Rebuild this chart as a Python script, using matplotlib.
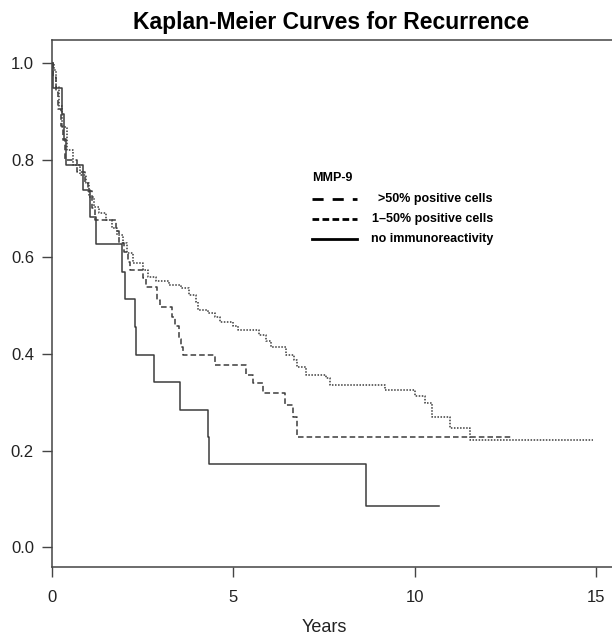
import matplotlib
matplotlib.use("Agg")
import matplotlib.pyplot as plt
from matplotlib.lines import Line2D

plt.rcParams['font.family'] = ['Liberation Sans', 'DejaVu Sans']
plt.rcParams['lines.scale_dashes'] = False

# no immunoreactivity (solid)
t_none = [0, 0.04, 0.27, 0.33, 0.39, 0.85, 1.05, 1.20, 1.93, 2.01, 2.29, 2.31, 2.82, 3.54, 4.31, 4.33, 8.65, 10.68]
s_none = [1.0, 0.947, 0.895, 0.842, 0.789, 0.737, 0.682, 0.626, 0.569, 0.512, 0.455, 0.398, 0.341, 0.284, 0.228, 0.172, 0.086, 0.086]

# dashed curve
t_dash = [0, 0.04, 0.10, 0.17, 0.24, 0.30, 0.36, 0.70, 0.91, 1.00, 1.10, 1.19, 1.76, 1.85, 1.98, 2.10, 2.15,
          2.52, 2.58, 2.90, 2.98, 3.30, 3.40, 3.50, 3.55, 3.62, 4.49, 5.35, 5.55, 5.83, 6.42, 6.65, 6.75, 12.67]
s_dash = [1.0, 0.97, 0.94, 0.905, 0.87, 0.84, 0.80, 0.775, 0.752, 0.735, 0.70, 0.675, 0.652, 0.628, 0.61, 0.59, 0.573,
          0.555, 0.538, 0.511, 0.496, 0.475, 0.456, 0.43, 0.414, 0.397, 0.377, 0.356, 0.339, 0.318, 0.294, 0.27, 0.227, 0.227]

# dotted curve
t_dot = [0, 0.06, 0.12, 0.20, 0.28, 0.40, 0.58, 0.78, 0.94, 1.03, 1.17, 1.30, 1.48, 1.66, 1.80, 1.95, 2.08, 2.22,
         2.50, 2.64, 2.87, 3.23, 3.56, 3.78, 3.96, 4.03, 4.30, 4.49, 4.62, 5.00, 5.14, 5.72, 5.90, 6.05, 6.45, 6.68,
         6.75, 7.00, 7.55, 7.66, 9.18, 10.00, 10.28, 10.47, 10.97, 11.52, 14.91]
s_dot = [1.0, 0.986, 0.951, 0.91, 0.868, 0.82, 0.789, 0.769, 0.752, 0.724, 0.703, 0.690, 0.676, 0.659, 0.645, 0.628,
         0.607, 0.587, 0.573, 0.559, 0.549, 0.542, 0.535, 0.521, 0.507, 0.490, 0.483, 0.475, 0.466, 0.456, 0.449,
         0.439, 0.425, 0.414, 0.397, 0.387, 0.373, 0.356, 0.349, 0.335, 0.324, 0.313, 0.298, 0.270, 0.247, 0.222, 0.222]

legend_labels = [">50% positive cells", "1\u201350% positive cells", "no immunoreactivity"]

fig = plt.figure(figsize=(6.12, 6.34), dpi=100)
ax = fig.add_axes([0.085, 0.1049, 0.915, 0.8320])

col = '#3c3c3c'
ax.step(t_none, s_none, where='post', color=col, lw=1.1)
ax.step(t_dash, s_dash, where='post', color=col, lw=1.1, dashes=(4, 2.2))
ax.step(t_dot, s_dot, where='post', color=col, lw=1.1, dashes=(1.1, 1.1))

ax.set_xlim(0, 15.44)
ax.set_ylim(-0.0413, 1.047)
ax.set_xticks([0, 5, 10, 15])
ax.set_yticks([0.0, 0.2, 0.4, 0.6, 0.8, 1.0])
ax.set_yticklabels(["0.0", "0.2", "0.4", "0.6", "0.8", "1.0"])
ax.tick_params(length=7, width=1, color='#444444', labelsize=12, labelcolor='#222222')
ax.tick_params(axis='x', pad=9)
ax.tick_params(axis='y', pad=6)
ax.spines['right'].set_visible(False)
for s in ['left', 'bottom', 'top']:
    ax.spines[s].set_color('#444444')
    ax.spines[s].set_linewidth(1.1)

fig.text(331 / 612, 1 - 23 / 634, "Kaplan-Meier Curves for Recurrence", ha='center', va='center',
         fontsize=16.5, fontweight='bold')
fig.text(324 / 612, 1 - 627 / 634, "Years", ha='center', va='center', fontsize=13, color='#222222')

# legend drawn by hand, text right-aligned like the original
fig.text(312 / 612, 1 - 178 / 634, "MMP-9", ha='left', va='center', fontsize=9, fontweight='bold')
styles = [dict(dashes=(8, 6.5)), dict(dashes=(4.8, 2.4)), dict(linestyle='-')]
rows = [199, 219, 239]
for lab, st, r in zip(legend_labels, styles, rows):
    y = 1 - r / 634
    fig.add_artist(Line2D([312 / 612, 357 / 612], [y, y], transform=fig.transFigure,
                          color='black', lw=2, **st))
    fig.text(493 / 612, y, lab, ha='right', va='center', fontsize=9, fontweight='bold')

fig.savefig("out.png", dpi=100)
